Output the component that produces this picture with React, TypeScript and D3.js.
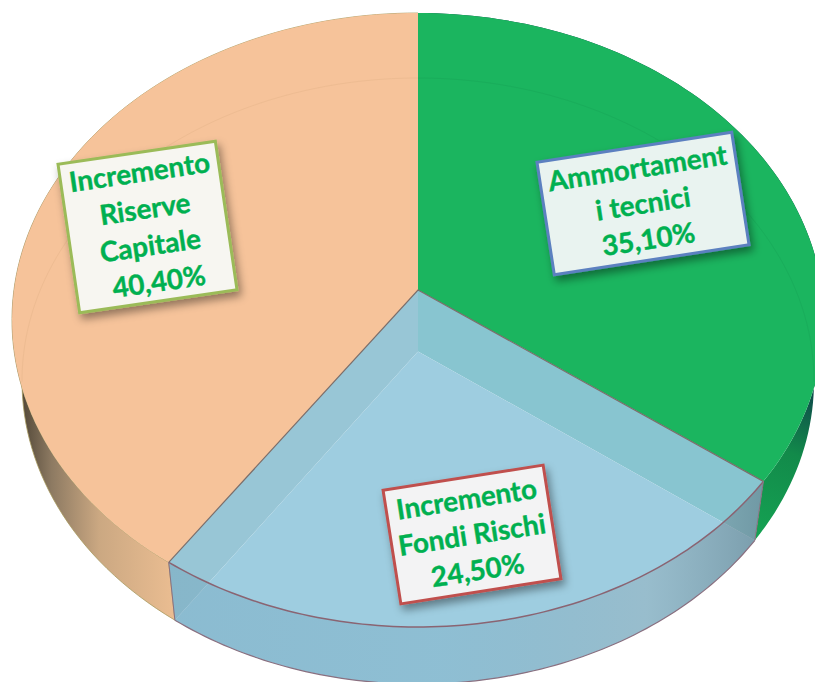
import React from "react";
import * as d3 from "d3";

const categories = ["Ammortamenti tecnici", "Incremento Fondi Rischi", "Incremento Riserve Capitale"];
const values = [35.1, 24.5, 40.4];
const labelLines = [
  ["Ammortament", "i tecnici", "35,10%"],
  ["Incremento", "Fondi Rischi", "24,50%"],
  ["Incremento", "Riserve", "Capitale", "\u00a040,40%"],
];
const boxCenters = [[643, 203.5], [472, 534.5], [147.5, 227]];
const boxSizes = [[197, 114], [162, 115], [159, 150]];
const boxAngles = [-8.75, -8.9, -8.3];
const boxStrokes = ["#5b80c0", "#c0504d", "#9bbb59"];
const boxFills = ["#e9f3f0", "#f3f3f4", "#f7f6f1"];
const topColors = ["#1bb55f", "#9ecde0", "#f6c39a"];

const W = 815, H = 682;
const topE = { cx: 418, cy: 320, rx: 406, ry: 307 };
const botE = { cx: 418, cy: 381, rx: 396, ry: 303 };
const persp = -0.0977;

type E = typeof topE;
const project = (t: number, r: number, e: E): [number, number] => {
  const x = r * Math.sin(t), y = -r * Math.cos(t);
  const den = 1 + persp * y;
  return [e.cx + (e.rx * x * Math.sqrt(1 - persp * persp)) / den, e.cy + (e.ry * (y + persp)) / den];
};
const arcs = d3.pie<number>().sort(null).value((d) => d)(values);
const line = d3.line();
const rim = (a0: number, a1: number, e: E) => {
  const n = 90;
  return d3.range(n + 1).map((i) => project(a0 + ((a1 - a0) * i) / n, 1, e));
};
const wedge = (a0: number, a1: number, e: E) => line([project(0, 0, e), ...rim(a0, a1, e)]) + "Z";
const wall = (a0: number, a1: number) => line([...rim(a0, a1, topE), ...rim(a0, a1, botE).reverse()]) + "Z";
const innerWall = (a: number) =>
  line([project(0, 0, topE), project(a, 1, topE), project(a, 1, botE), project(0, 0, botE)]) + "Z";

const [green, blue, peach] = arcs;
const fontFamily = "Lato, Carlito, 'Open Sans', sans-serif";

export default function App() {
  return (
    <svg width={W} height={H} viewBox={`0 0 ${W} ${H}`} style={{ position: "absolute", left: 0, top: 0, display: "block", background: "#fff" }}>
      <defs>
        <linearGradient id="peachWall" gradientUnits="userSpaceOnUse" x1="20" x2="178" y1="0" y2="0">
          <stop offset="0" stopColor="#4f4536" />
          <stop offset="0.2" stopColor="#8d7a62" />
          <stop offset="0.5" stopColor="#cba882" />
          <stop offset="1" stopColor="#ecbe92" />
        </linearGradient>
        <linearGradient id="greenWall" gradientUnits="userSpaceOnUse" x1="755" x2="815" y1="540" y2="380">
          <stop offset="0" stopColor="#15a353" />
          <stop offset="0.55" stopColor="#128a4a" />
          <stop offset="1" stopColor="#0d3f4a" />
        </linearGradient>
        <linearGradient id="blueWall" gradientUnits="userSpaceOnUse" x1="170" x2="765" y1="0" y2="0">
          <stop offset="0" stopColor="#5f93ad" stopOpacity="0.3" />
          <stop offset="0.45" stopColor="#5f93ad" stopOpacity="0.25" />
          <stop offset="0.8" stopColor="#8fa5b0" stopOpacity="0.4" />
          <stop offset="1" stopColor="#5f7a86" stopOpacity="0.6" />
        </linearGradient>
        <filter id="shadow" x="-20%" y="-20%" width="140%" height="140%">
          <feDropShadow dx="3" dy="5" stdDeviation="4" floodColor="#000" floodOpacity="0.4" />
        </filter>
      </defs>

      {/* outer side walls */}
      <path d={wall(peach.startAngle, peach.endAngle)} fill="url(#peachWall)" stroke="#a89a60" strokeWidth={0.8} />
      <path d={wall(green.startAngle, green.endAngle)} fill="url(#greenWall)" />

      {/* opaque top faces */}
      <path d={wedge(peach.startAngle, peach.endAngle, topE)} fill={topColors[2]} />
      <path d={wedge(green.startAngle, green.endAngle, topE)} fill={topColors[0]} />

      {/* faint back edge seen through the top */}
      <path d={line(rim(-Math.PI / 2 - 0.1, 0, botE))!} fill="none" stroke="#eebc92" strokeWidth={1} />
      <path d={line(rim(0, Math.PI / 2 + 0.1, botE))!} fill="none" stroke="#19ad5b" strokeWidth={1} />

      {/* translucent slice */}
      <path d={innerWall(green.endAngle)} fill="#88c5d0" />
      <path d={innerWall(blue.endAngle)} fill="#98c6d6" />
      <path d={wedge(blue.startAngle, blue.endAngle, botE)} fill={topColors[1]} />
      <path d={wall(blue.startAngle, blue.endAngle)} fill="url(#blueWall)" />

      {/* edges */}
      <path d={line(rim(blue.startAngle, blue.endAngle, topE))!} fill="none" stroke="#8a6472" strokeWidth={1.5} />
      <path d={line(rim(blue.startAngle, blue.endAngle, botE))!} fill="none" stroke="#8a7080" strokeWidth={1.2} />
      <path d={line([project(blue.startAngle, 1, topE), project(0, 0, topE), project(blue.endAngle, 1, topE)])!} fill="none" stroke="#7c6e6a" strokeWidth={1.2} />
      {[blue.startAngle, blue.endAngle].map((a) => (
        <path key={a} d={line([project(a, 1, topE), project(a, 1, botE)])!} stroke="#8a7080" strokeWidth={1} fill="none" />
      ))}

      {/* labels */}
      {categories.map((c, i) => {
        const [w, h] = boxSizes[i];
        const [bx, by] = boxCenters[i];
        const lines = labelLines[i];
        const lh = lines.length === 4 ? 37 : 36;
        return (
          <g key={c}>
            <g filter="url(#shadow)">
              <rect
                transform={`translate(${bx},${by}) rotate(${boxAngles[i]})`}
                x={-w / 2} y={-h / 2} width={w} height={h}
                fill={boxFills[i]} stroke={boxStrokes[i]} strokeWidth={3}
              />
            </g>
            <g transform={`translate(${bx},${by}) rotate(${boxAngles[i]})`}>
              {lines.map((t, j) => (
                <text
                  key={j} x={0} y={(j - (lines.length - 1) / 2) * lh + 10}
                  textAnchor="middle" fontFamily={fontFamily} fontWeight={700} fontSize={27.8} fill="#00b050"
                  stroke="#00b050" strokeWidth={0.4}
                >{t}</text>
              ))}
            </g>
          </g>
        );
      })}
    </svg>
  );
}
